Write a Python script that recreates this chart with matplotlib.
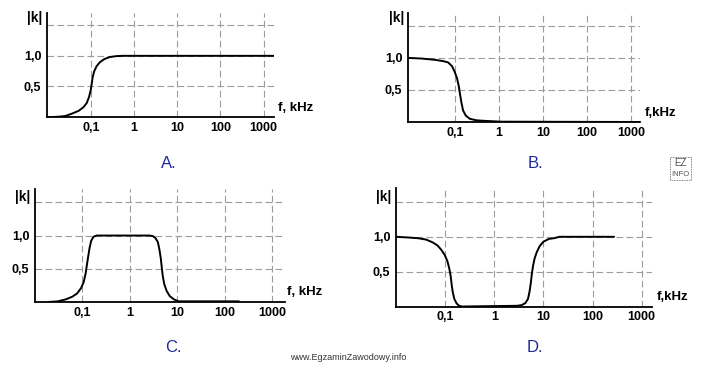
#!/usr/bin/env python3
"""Four |k|(f) frequency-response sketches (high-pass, low-pass, band-pass, band-stop)."""

import matplotlib
matplotlib.use("Agg")
import matplotlib.pyplot as plt
from matplotlib.patches import Rectangle

# ── Data ────────────────────────────────────────────────────────────────────
FREQ_TICKS = [0.1, 1, 10, 100, 1000]
FREQ_LABELS = ["0,1", "1", "10", "100", "1000"]
K_TICKS = [0.5, 1.0]
K_LABELS = ["0,5", "1,0"]
K_GRID = [0.5, 1.0, 1.5]

# A: high-pass
A_F = [0.0098, 0.0128, 0.0181, 0.0256, 0.0364, 0.0515, 0.0668, 0.0798,
       0.0901, 0.0984, 0.1037, 0.109, 0.119, 0.1346, 0.160, 0.201, 0.270,
       0.384, 0.542, 1700]
A_K = [0.0, 0.0, 0.005, 0.017, 0.056, 0.10, 0.16, 0.23,
       0.33, 0.44, 0.54, 0.65, 0.75, 0.83, 0.895, 0.945, 0.98,
       0.995, 1.0, 1.0]

# B: low-pass
B_F = [0.0087, 0.0175, 0.0351, 0.0542, 0.0705, 0.0869, 0.1, 0.1128, 0.1233,
       0.1319, 0.1419, 0.1545, 0.1778, 0.2193, 0.311, 0.525, 1.14, 1600]
B_K = [1.0, 0.99, 0.97, 0.95, 0.93, 0.87, 0.78, 0.68, 0.56,
       0.43, 0.30, 0.18, 0.10, 0.05, 0.026, 0.016, 0.005, 0.0]

# C: band-pass
C_F = [0.0193, 0.0309, 0.0458, 0.0625, 0.0791, 0.0955, 0.1083, 0.119, 0.1265,
       0.135, 0.1437, 0.1555, 0.1734, 0.2023,
       2.66, 3.12, 3.52, 3.94, 4.24, 4.53, 4.74, 4.97, 5.36, 5.99, 6.98,
       8.53, 10.8, 200]
C_K = [0.0, 0.01, 0.04, 0.08, 0.13, 0.21, 0.30, 0.43, 0.56,
       0.69, 0.81, 0.92, 0.98, 1.0,
       1.0, 0.99, 0.96, 0.90, 0.79, 0.66, 0.53, 0.40, 0.27, 0.17, 0.09,
       0.04, 0.01, 0.01]

# D: band-stop
D_F = [0.01, 0.0176, 0.0279, 0.0411, 0.0557, 0.0701, 0.0843, 0.0986, 0.1112,
       0.1219, 0.130, 0.136, 0.1426, 0.1535, 0.1714, 0.1932, 0.222,
       2.89, 3.61, 4.31, 4.86, 5.21, 5.55, 5.80, 6.14, 6.62, 7.33, 8.38,
       10.0, 12.97, 16.6, 21.2, 275]
D_K = [1.0, 0.99, 0.98, 0.96, 0.92, 0.875, 0.81, 0.736, 0.65,
       0.54, 0.43, 0.31, 0.21, 0.11, 0.043, 0.01, 0.0,
       0.01, 0.02, 0.05, 0.11, 0.21, 0.34, 0.46, 0.58, 0.69, 0.78, 0.865,
       0.93, 0.97, 0.98, 1.0, 1.0]

# ── Layout (pixels of a 704x365 canvas) ─────────────────────────────────────
W, H = 704, 365

PANELS = [
    # data, axes box (l, t, r, b), log10 xlim, letter + pos, |k| pos, f label + pos
    dict(f=A_F, k=A_K, box=(47, 13, 274, 117), xl=(-2.02, 3.24),
         letter="A.", lpos=(169, 163), kpos=(42, 18), fl="f, kHz", fpos=(278, 108)),
    dict(f=B_F, k=B_K, box=(408, 13, 640, 122), xl=(-2.06, 3.20),
         letter="B.", lpos=(535, 163), kpos=(404, 18), fl="f,kHz", fpos=(645, 113)),
    dict(f=C_F, k=C_K, box=(35, 189, 285, 302), xl=(-1.99, 3.27),
         letter="C.", lpos=(173, 347), kpos=(30, 197), fl="f, kHz", fpos=(287, 292)),
    dict(f=D_F, k=D_K, box=(396, 188, 652, 306.5), xl=(-2.00, 3.21),
         letter="D.", lpos=(535, 348), kpos=(391, 197), fl="f,kHz", fpos=(657, 297)),
]

GRID_COLOR = "#9c9c9c"
LETTER_COLOR = "#1f2a9a"
LABEL_FONT = ["Liberation Sans", "DejaVu Sans"]


def fx(x):
    return x / W


def fy(y):
    return 1 - y / H


def main():
    plt.rcParams.update({
        "font.family": ["Liberation Sans", "DejaVu Sans"],
        "font.size": 9,
    })
    fig = plt.figure(figsize=(W / 100, H / 100), dpi=100)

    for p in PANELS:
        l, t, r, b = p["box"]
        ax = fig.add_axes([fx(l), fy(b), (r - l) / W, (b - t) / H])
        ax.set_xscale("log")
        ax.set_xlim(10 ** p["xl"][0], 10 ** p["xl"][1])
        ax.set_ylim(0, 1.7)

        for v in FREQ_TICKS:
            ax.axvline(v, color=GRID_COLOR, lw=0.8, ls=(0, (6, 3)), zorder=1)
        for v in K_GRID:
            ax.axhline(v, color=GRID_COLOR, lw=0.8, ls=(0, (6, 3)), zorder=1)

        ax.plot(p["f"], p["k"], color="black", lw=1.4, zorder=3,
                solid_joinstyle="round", solid_capstyle="round")

        ax.set_xticks(FREQ_TICKS)
        ax.set_xticklabels(FREQ_LABELS, fontweight="bold", family=LABEL_FONT)
        ax.xaxis.set_minor_locator(matplotlib.ticker.NullLocator())
        ax.set_yticks(K_TICKS)
        ax.set_yticklabels(K_LABELS, fontweight="bold", family=LABEL_FONT)
        ax.tick_params(length=0, labelsize=9)
        ax.tick_params(axis="x", pad=3.5)
        ax.tick_params(axis="y", pad=4)
        for side in ("top", "right"):
            ax.spines[side].set_visible(False)
        for side in ("left", "bottom"):
            ax.spines[side].set_linewidth(1.3)
            ax.spines[side].set_zorder(4)
        ax.patch.set_visible(False)

        fig.text(fx(p["kpos"][0]), fy(p["kpos"][1]), "|k|", ha="right",
                 va="center", fontweight="bold", fontsize=10, family=LABEL_FONT)
        fig.text(fx(p["fpos"][0]), fy(p["fpos"][1]), p["fl"], ha="left",
                 va="center", fontweight="bold", fontsize=9.5, family=LABEL_FONT)
        fig.text(fx(p["lpos"][0]), fy(p["lpos"][1]), p["letter"], ha="center",
                 va="center", fontsize=12, color=LETTER_COLOR)

    # footer and small logo
    fig.text(fx(290), fy(357), "www.EgzaminZawodowy.info", ha="left",
             va="center", fontsize=6.5, color="#333333")
    fig.patches.append(Rectangle((fx(670), fy(180)), 21 / W, 23 / H,
                                 transform=fig.transFigure, fill=False,
                                 ec="#555555", lw=0.6, ls=(0, (1, 1))))
    fig.text(fx(680.5), fy(163), "EZ", ha="center", va="center",
             fontsize=7, color="#555555")
    fig.text(fx(680.5), fy(174), "INFO", ha="center", va="center",
             fontsize=5.5, color="#555555")

    fig.savefig("out.png", dpi=100)
    plt.close(fig)


if __name__ == "__main__":
    main()
